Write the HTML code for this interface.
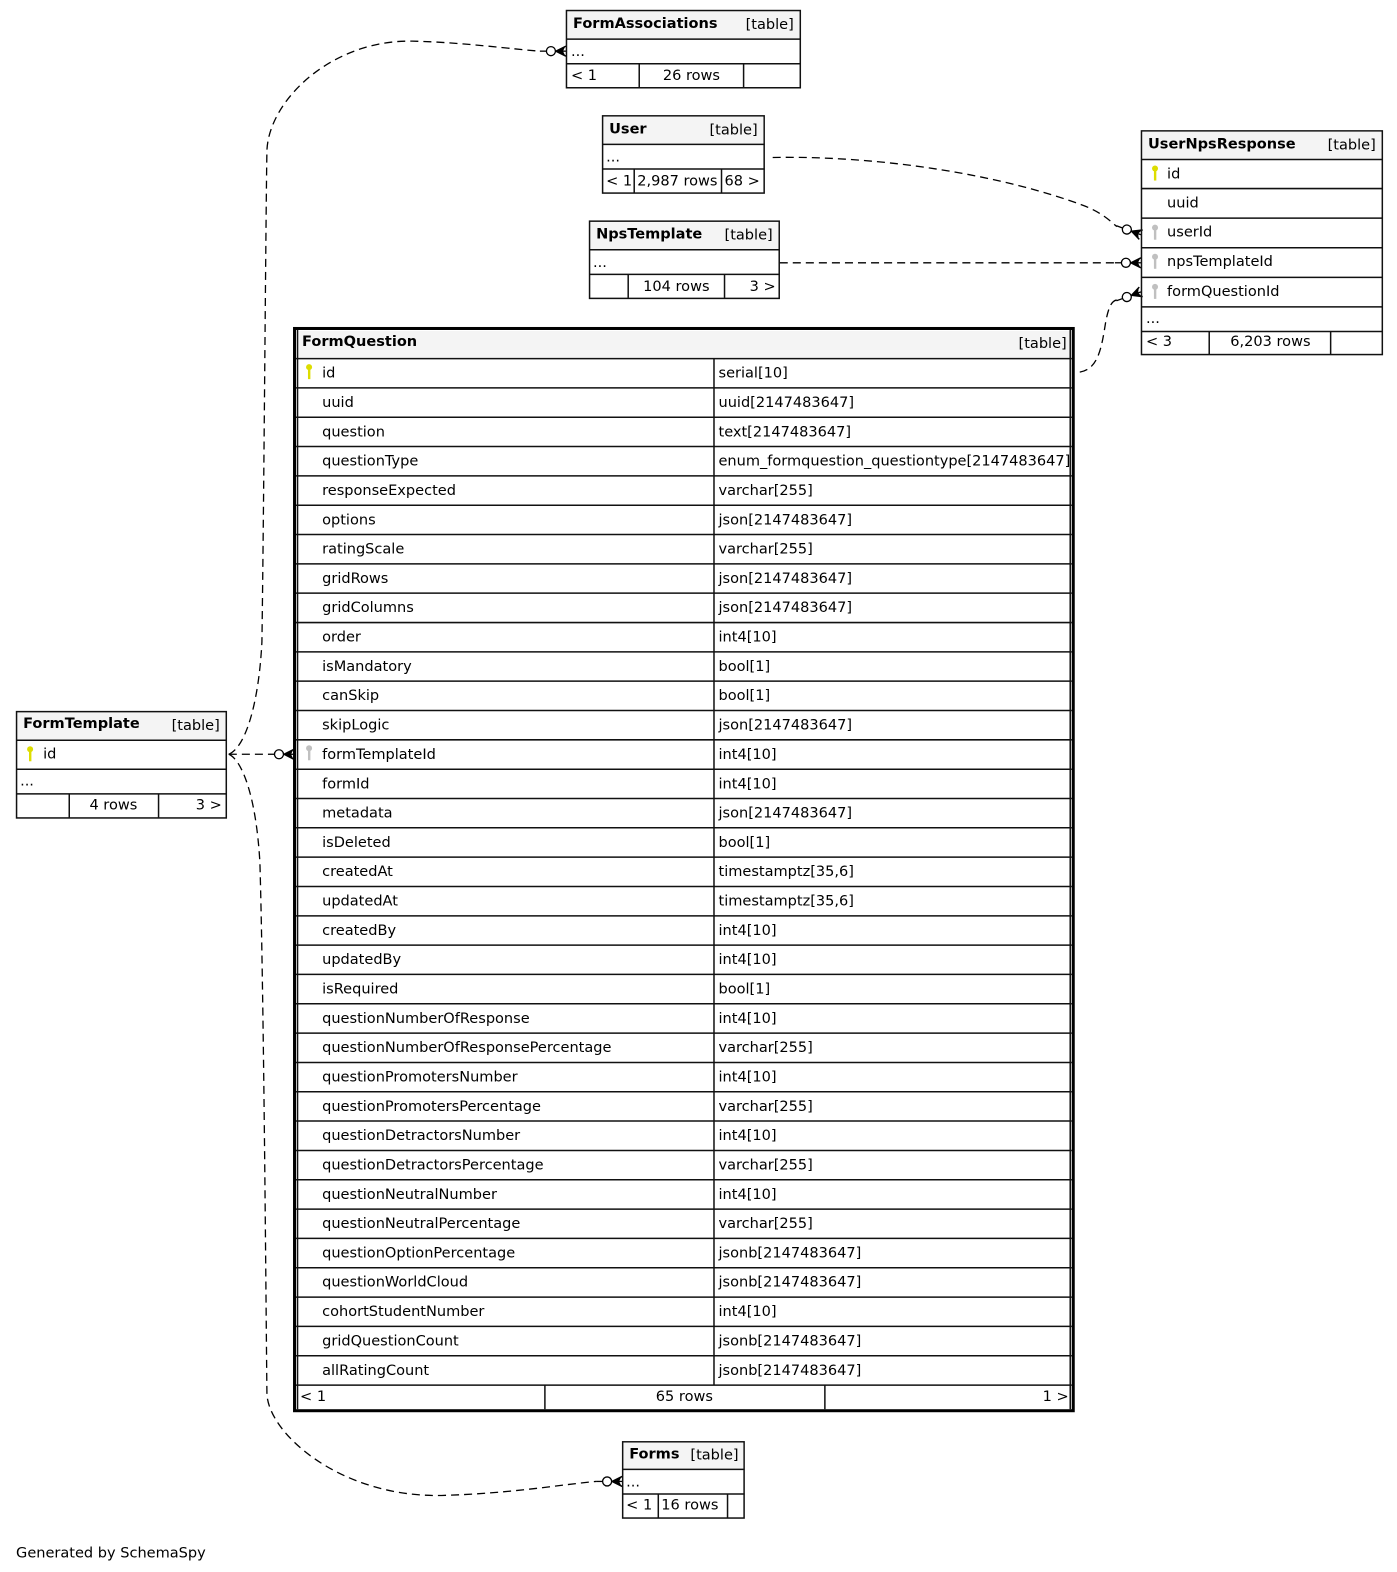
<!DOCTYPE html>
<html><head><meta charset="utf-8"><style>
html,body{margin:0;padding:0;background:#fff;width:1397px;height:1572px;overflow:hidden;}
svg{display:block;position:absolute;left:0;top:0;}
text{font-family:"DejaVu Sans","Liberation Sans",sans-serif;font-size:14.5px;fill:#000;}
.b{font-weight:bold;}
.hd{fill:#f4f4f4;}
.ln{stroke:#111;stroke-width:1.5;fill:none;}
.dash{stroke:#000;stroke-width:1.3;fill:none;stroke-dasharray:8,5;}
</style></head><body>
<svg width="1397" height="1572" viewBox="0 0 1397 1572" xmlns="http://www.w3.org/2000/svg">
<defs>
<g id="crow">
<line x1="-26" y1="0" x2="-19.5" y2="0" stroke="#000" stroke-width="1.3"/>
<circle cx="-15" cy="0" r="4.5" fill="#fff" stroke="#000" stroke-width="1.3"/>
<line x1="-10.5" y1="0" x2="0" y2="0" stroke="#000" stroke-width="1.3"/>
<path d="M-10,0 L0,-5 M-10,0 L0,5" stroke="#000" stroke-width="1.5" fill="none"/>
<polygon points="-10,0 -1,-4 -3,0 -1,4" fill="#000"/>
</g>
<g id="pk"><circle cx="0" cy="0" r="3" fill="#dddd00"/><rect x="-1.1" y="1" width="2.4" height="11" fill="#dddd00"/></g>
<g id="fk"><circle cx="0" cy="0" r="3" fill="#c0c0c0"/><rect x="-1.1" y="1" width="2.4" height="11" fill="#c0c0c0"/></g>
</defs>
<g transform="scale(1.0035,1.003)">
<!-- connectors -->
<path class="dash" d="M228,752 C245,745 258,700 261,640 C263,500 265,200 266,150 C268,100 330,40 410,41 C460,42 510,49 538,51"/>
<path class="dash" d="M228,752 C240,757 255,790 259,860 C263,1000 265,1300 266,1390 C268,1430 340,1493 440,1491 C510,1489 560,1480 594,1477"/>
<path class="dash" d="M228,752 L266,752"/>
<path class="dash" d="M770,157 C880,155 1000,175 1080,205 C1098,212 1106,220 1113,226"/>
<path class="dash" d="M777,262 L1111,262"/>
<path class="dash" d="M1076,371 C1095,368 1098,345 1102,320 C1105,305 1108,300 1113,299"/>

<use href="#crow" transform="translate(564,51)"/>
<use href="#crow" transform="translate(620,1477)"/>
<use href="#crow" transform="translate(293,752)"/>
<use href="#crow" transform="translate(1137,234) rotate(20)"/>
<use href="#crow" transform="translate(1137,262)"/>
<use href="#crow" transform="translate(1137,291) rotate(-20)"/>

<!-- FormAssociations -->
<rect x="564.5" y="10.5" width="233" height="77" fill="#fff" class="ln"/>
<rect x="565.5" y="11.5" width="231" height="27" class="hd"/>
<line class="ln" x1="564" y1="39" x2="798" y2="39"/>
<line class="ln" x1="564" y1="63.5" x2="798" y2="63.5"/>
<line class="ln" x1="637" y1="63.5" x2="637" y2="87"/>
<line class="ln" x1="741" y1="63.5" x2="741" y2="87"/>
<text class="b" x="571" y="28">FormAssociations</text>
<text x="791" y="29" text-anchor="end">[table]</text>
<text x="569" y="56">...</text>
<text x="569" y="80">&lt; 1</text>
<text x="689" y="80" text-anchor="middle">26 rows</text>

<!-- User -->
<rect x="600.5" y="115.5" width="161" height="77" fill="#fff" class="ln"/>
<rect x="601.5" y="116.5" width="159" height="27" class="hd"/>
<line class="ln" x1="600" y1="144" x2="762" y2="144"/>
<line class="ln" x1="600" y1="168.5" x2="762" y2="168.5"/>
<line class="ln" x1="632" y1="168.5" x2="632" y2="192"/>
<line class="ln" x1="719" y1="168.5" x2="719" y2="192"/>
<text class="b" x="607" y="133">User</text>
<text x="755" y="134" text-anchor="end">[table]</text>
<text x="604" y="161">...</text>
<text x="604" y="185">&lt; 1</text>
<text x="635" y="185">2,987 rows</text>
<text x="722" y="185">68 &gt;</text>

<!-- NpsTemplate -->
<rect x="587.5" y="220.5" width="189" height="77" fill="#fff" class="ln"/>
<rect x="588.5" y="221.5" width="187" height="27" class="hd"/>
<line class="ln" x1="587" y1="249" x2="777" y2="249"/>
<line class="ln" x1="587" y1="273.5" x2="777" y2="273.5"/>
<line class="ln" x1="626" y1="273.5" x2="626" y2="297"/>
<line class="ln" x1="722" y1="273.5" x2="722" y2="297"/>
<text class="b" x="594" y="238">NpsTemplate</text>
<text x="770" y="239" text-anchor="end">[table]</text>
<text x="591" y="266">...</text>
<text x="674" y="290" text-anchor="middle">104 rows</text>
<text x="773" y="290" text-anchor="end">3 &gt;</text>

<!-- UserNpsResponse -->
<rect x="1137.5" y="130.5" width="240" height="223" fill="#fff" class="ln"/>
<rect x="1138.5" y="131.5" width="238" height="27" class="hd"/>
<line class="ln" x1="1137" y1="159" x2="1378" y2="159"/>
<line class="ln" x1="1137" y1="188" x2="1378" y2="188"/>
<line class="ln" x1="1137" y1="217.5" x2="1378" y2="217.5"/>
<line class="ln" x1="1137" y1="247" x2="1378" y2="247"/>
<line class="ln" x1="1137" y1="276.5" x2="1378" y2="276.5"/>
<line class="ln" x1="1137" y1="306" x2="1378" y2="306"/>
<line class="ln" x1="1137" y1="330.5" x2="1378" y2="330.5"/>
<line class="ln" x1="1205" y1="330.5" x2="1205" y2="353"/>
<line class="ln" x1="1326" y1="330.5" x2="1326" y2="353"/>
<text class="b" x="1144" y="148">UserNpsResponse</text>
<text x="1371" y="149" text-anchor="end">[table]</text>
<use href="#pk" transform="translate(1151,168)"/>
<text x="1163" y="178">id</text>
<text x="1163" y="207">uuid</text>
<use href="#fk" transform="translate(1151,227)"/>
<text x="1163" y="236">userId</text>
<use href="#fk" transform="translate(1151,256)"/>
<text x="1163" y="265">npsTemplateId</text>
<use href="#fk" transform="translate(1151,286)"/>
<text x="1163" y="295">formQuestionId</text>
<text x="1142" y="322">...</text>
<text x="1142" y="345">&lt; 3</text>
<text x="1266" y="345" text-anchor="middle">6,203 rows</text>

<!-- FormTemplate -->
<rect x="16.5" y="709.5" width="209" height="106" fill="#fff" class="ln"/>
<rect x="17.5" y="710.5" width="207" height="27" class="hd"/>
<line class="ln" x1="16" y1="738" x2="226" y2="738"/>
<line class="ln" x1="16" y1="767" x2="226" y2="767"/>
<line class="ln" x1="16" y1="791.5" x2="226" y2="791.5"/>
<line class="ln" x1="69" y1="791.5" x2="69" y2="815"/>
<line class="ln" x1="158" y1="791.5" x2="158" y2="815"/>
<text class="b" x="23" y="726">FormTemplate</text>
<text x="219" y="728" text-anchor="end">[table]</text>
<use href="#pk" transform="translate(30,747)"/>
<text x="43" y="756">id</text>
<text x="20" y="783">...</text>
<text x="113" y="807" text-anchor="middle">4 rows</text>
<text x="221" y="807" text-anchor="end">3 &gt;</text>

<!-- Forms -->
<rect x="620.5" y="1437.5" width="121" height="76" fill="#fff" class="ln"/>
<rect x="621.5" y="1438.5" width="119" height="26" class="hd"/>
<line class="ln" x1="620" y1="1465" x2="742" y2="1465"/>
<line class="ln" x1="620" y1="1489.5" x2="742" y2="1489.5"/>
<line class="ln" x1="656" y1="1489.5" x2="656" y2="1513"/>
<line class="ln" x1="725" y1="1489.5" x2="725" y2="1513"/>
<text class="b" x="627" y="1454">Forms</text>
<text x="736" y="1455" text-anchor="end">[table]</text>
<text x="624" y="1482">...</text>
<text x="624" y="1505">&lt; 1</text>
<text x="659" y="1505">16 rows</text>

<!-- FormQuestion -->
<rect x="293.5" y="327.5" width="776" height="1079" fill="#fff" stroke="#000" stroke-width="3"/>
<rect x="296" y="330" width="771" height="27" class="hd"/>
<g class="ln" stroke-width="1.5">
<line x1="296.5" y1="329" x2="296.5" y2="1405"/>
<line x1="1066.5" y1="329" x2="1066.5" y2="1405"/>
<line x1="295" y1="357.5" x2="1068" y2="357.5"/>
<line x1="295" y1="386.7" x2="1068" y2="386.7"/>
<line x1="295" y1="416" x2="1068" y2="416"/>
<line x1="295" y1="445.2" x2="1068" y2="445.2"/>
<line x1="295" y1="474.5" x2="1068" y2="474.5"/>
<line x1="295" y1="503.7" x2="1068" y2="503.7"/>
<line x1="295" y1="532.9" x2="1068" y2="532.9"/>
<line x1="295" y1="562.2" x2="1068" y2="562.2"/>
<line x1="295" y1="591.4" x2="1068" y2="591.4"/>
<line x1="295" y1="620.7" x2="1068" y2="620.7"/>
<line x1="295" y1="649.9" x2="1068" y2="649.9"/>
<line x1="295" y1="679.1" x2="1068" y2="679.1"/>
<line x1="295" y1="708.4" x2="1068" y2="708.4"/>
<line x1="295" y1="737.6" x2="1068" y2="737.6"/>
<line x1="295" y1="766.9" x2="1068" y2="766.9"/>
<line x1="295" y1="796.1" x2="1068" y2="796.1"/>
<line x1="295" y1="825.3" x2="1068" y2="825.3"/>
<line x1="295" y1="854.6" x2="1068" y2="854.6"/>
<line x1="295" y1="883.8" x2="1068" y2="883.8"/>
<line x1="295" y1="913.1" x2="1068" y2="913.1"/>
<line x1="295" y1="942.3" x2="1068" y2="942.3"/>
<line x1="295" y1="971.5" x2="1068" y2="971.5"/>
<line x1="295" y1="1000.8" x2="1068" y2="1000.8"/>
<line x1="295" y1="1030" x2="1068" y2="1030"/>
<line x1="295" y1="1059.3" x2="1068" y2="1059.3"/>
<line x1="295" y1="1088.5" x2="1068" y2="1088.5"/>
<line x1="295" y1="1117.7" x2="1068" y2="1117.7"/>
<line x1="295" y1="1147" x2="1068" y2="1147"/>
<line x1="295" y1="1176.2" x2="1068" y2="1176.2"/>
<line x1="295" y1="1205.5" x2="1068" y2="1205.5"/>
<line x1="295" y1="1234.7" x2="1068" y2="1234.7"/>
<line x1="295" y1="1263.9" x2="1068" y2="1263.9"/>
<line x1="295" y1="1293.2" x2="1068" y2="1293.2"/>
<line x1="295" y1="1322.4" x2="1068" y2="1322.4"/>
<line x1="295" y1="1351.7" x2="1068" y2="1351.7"/>
<line x1="295" y1="1381" x2="1068" y2="1381"/>
<line x1="711.5" y1="357.5" x2="711.5" y2="1381"/>
<line x1="543" y1="1381" x2="543" y2="1405"/>
<line x1="822" y1="1381" x2="822" y2="1405"/>
</g>
<text class="b" x="301" y="345">FormQuestion</text>
<text x="1063" y="347" text-anchor="end">[table]</text>
<use href="#pk" transform="translate(308,366)"/>
<use href="#fk" transform="translate(308,746)"/>
<g>
<text x="321" y="376.5">id</text><text x="716" y="376.5">serial[10]</text>
<text x="321" y="405.7">uuid</text><text x="716" y="405.7">uuid[2147483647]</text>
<text x="321" y="435">question</text><text x="716" y="435">text[2147483647]</text>
<text x="321" y="464.2">questionType</text><text x="716" y="464.2">enum_formquestion_questiontype[2147483647]</text>
<text x="321" y="493.5">responseExpected</text><text x="716" y="493.5">varchar[255]</text>
<text x="321" y="522.7">options</text><text x="716" y="522.7">json[2147483647]</text>
<text x="321" y="551.9">ratingScale</text><text x="716" y="551.9">varchar[255]</text>
<text x="321" y="581.2">gridRows</text><text x="716" y="581.2">json[2147483647]</text>
<text x="321" y="610.4">gridColumns</text><text x="716" y="610.4">json[2147483647]</text>
<text x="321" y="639.7">order</text><text x="716" y="639.7">int4[10]</text>
<text x="321" y="668.9">isMandatory</text><text x="716" y="668.9">bool[1]</text>
<text x="321" y="698.1">canSkip</text><text x="716" y="698.1">bool[1]</text>
<text x="321" y="727.4">skipLogic</text><text x="716" y="727.4">json[2147483647]</text>
<text x="321" y="756.6">formTemplateId</text><text x="716" y="756.6">int4[10]</text>
<text x="321" y="785.9">formId</text><text x="716" y="785.9">int4[10]</text>
<text x="321" y="815.1">metadata</text><text x="716" y="815.1">json[2147483647]</text>
<text x="321" y="844.3">isDeleted</text><text x="716" y="844.3">bool[1]</text>
<text x="321" y="873.6">createdAt</text><text x="716" y="873.6">timestamptz[35,6]</text>
<text x="321" y="902.8">updatedAt</text><text x="716" y="902.8">timestamptz[35,6]</text>
<text x="321" y="932.1">createdBy</text><text x="716" y="932.1">int4[10]</text>
<text x="321" y="961.3">updatedBy</text><text x="716" y="961.3">int4[10]</text>
<text x="321" y="990.5">isRequired</text><text x="716" y="990.5">bool[1]</text>
<text x="321" y="1019.8">questionNumberOfResponse</text><text x="716" y="1019.8">int4[10]</text>
<text x="321" y="1049">questionNumberOfResponsePercentage</text><text x="716" y="1049">varchar[255]</text>
<text x="321" y="1078.3">questionPromotersNumber</text><text x="716" y="1078.3">int4[10]</text>
<text x="321" y="1107.5">questionPromotersPercentage</text><text x="716" y="1107.5">varchar[255]</text>
<text x="321" y="1136.7">questionDetractorsNumber</text><text x="716" y="1136.7">int4[10]</text>
<text x="321" y="1166">questionDetractorsPercentage</text><text x="716" y="1166">varchar[255]</text>
<text x="321" y="1195.2">questionNeutralNumber</text><text x="716" y="1195.2">int4[10]</text>
<text x="321" y="1224.5">questionNeutralPercentage</text><text x="716" y="1224.5">varchar[255]</text>
<text x="321" y="1253.7">questionOptionPercentage</text><text x="716" y="1253.7">jsonb[2147483647]</text>
<text x="321" y="1282.9">questionWorldCloud</text><text x="716" y="1282.9">jsonb[2147483647]</text>
<text x="321" y="1312.2">cohortStudentNumber</text><text x="716" y="1312.2">int4[10]</text>
<text x="321" y="1341.4">gridQuestionCount</text><text x="716" y="1341.4">jsonb[2147483647]</text>
<text x="321" y="1370.7">allRatingCount</text><text x="716" y="1370.7">jsonb[2147483647]</text>
</g>
<text x="299" y="1397">&lt; 1</text>
<text x="682" y="1397" text-anchor="middle">65 rows</text>
<text x="1065" y="1397" text-anchor="end">1 &gt;</text>

<text x="16" y="1553">Generated by SchemaSpy</text>
</g>
</svg>
</body></html>
